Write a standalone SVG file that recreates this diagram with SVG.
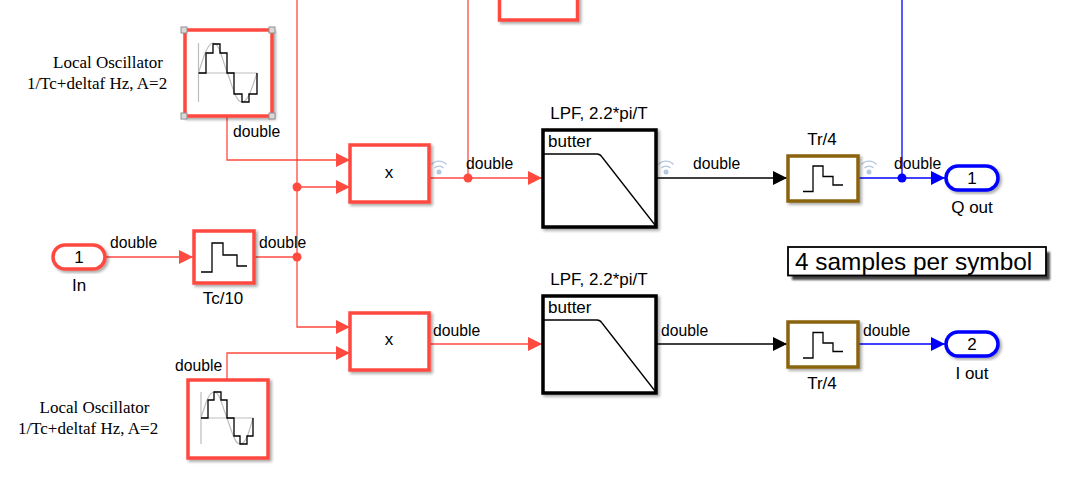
<svg xmlns="http://www.w3.org/2000/svg" width="1070" height="477" viewBox="0 0 1070 477">
<style>
text{font-family:"Liberation Sans",Arial,sans-serif;fill:#000}
.sig{font-size:15.700px}
.name{font-size:17px;text-anchor:middle}
.lft{font-size:17px}
.serif{font-family:"Liberation Serif","Times New Roman",serif;font-size:17px;text-anchor:middle}
.num{font-size:17px;text-anchor:middle}
.blk{fill:#fff;filter:url(#sh)}
.red{stroke:#ff4a40;stroke-width:3.500}
.blk2{stroke:#000;stroke-width:3.500}
.brn{stroke:#8a6410;stroke-width:3.500}
.blu{stroke:#0000ff;stroke-width:3.500}
.w{fill:none;stroke:#ff4a40;stroke-width:1.300}
.wb{fill:none;stroke:#000;stroke-width:1.300}
.wu{fill:none;stroke:#0000ff;stroke-width:1.300}
.ic{fill:none;stroke:#000;stroke-width:1.300}
.gr{fill:none;stroke:#bdbdbd;stroke-width:1.200}
.wf{fill:none;stroke:#b4c7e0;stroke-width:1.300}
.hd{fill:#d9d9d9;stroke:#8f8f8f;stroke-width:1}
</style>
<defs>
<filter id="sh" x="-15%" y="-15%" width="135%" height="135%"><feDropShadow dx="2" dy="2" stdDeviation="1.600" flood-color="#000" flood-opacity="0.35"/></filter>
<marker id="ar" markerUnits="userSpaceOnUse" markerWidth="14" markerHeight="14" refX="14" refY="7" orient="auto"><path d="M0 0L14 7L0 14Z" fill="#ff4a40"/></marker>
<marker id="ak" markerUnits="userSpaceOnUse" markerWidth="14" markerHeight="14" refX="14" refY="7" orient="auto"><path d="M0 0L14 7L0 14Z" fill="#000"/></marker>
<marker id="au" markerUnits="userSpaceOnUse" markerWidth="14" markerHeight="14" refX="14" refY="7" orient="auto"><path d="M0 0L14 7L0 14Z" fill="#0000ff"/></marker>
<g id="wifi"><path class="wf" d="M-7.500 -7.500A10 10 0 0 1 7.500 -7.500M-4.500 -4A6.500 6.500 0 0 1 4.500 -4"/><circle cx="0" cy="0" r="2.500" fill="#b4c7e0"/></g>
<path id="zoh" class="ic" d="M0 0H10V-25.500H20V-15H30V-6.500H40"/>
</defs>

<g id="connectors">
<path class="w" d="M105 257H193" marker-end="url(#ar)"/>
<path class="w" d="M254 257H297"/>
<path class="w" d="M297 0V327H350" marker-end="url(#ar)"/>
<path class="w" d="M297 187H350" marker-end="url(#ar)"/>
<path class="w" d="M227 116V160H350" marker-end="url(#ar)"/>
<path class="w" d="M227 379V353H350" marker-end="url(#ar)"/>
<path class="w" d="M429 178H542" marker-end="url(#ar)"/>
<path class="w" d="M468 0V178"/>
<path class="w" d="M429 344H542" marker-end="url(#ar)"/>
<path class="wb" d="M657 178H787" marker-end="url(#ak)"/>
<path class="wb" d="M657 344H787" marker-end="url(#ak)"/>
<path class="wu" d="M858 178H945" marker-end="url(#au)"/>
<path class="wu" d="M902 0V178"/>
<path class="wu" d="M858 344H945" marker-end="url(#au)"/>
<circle cx="297" cy="187" r="4.500" fill="#ff4a40"/>
<circle cx="297" cy="257" r="4.500" fill="#ff4a40"/>
<circle cx="468" cy="178" r="4.500" fill="#ff4a40"/>
<circle cx="902" cy="178" r="4.500" fill="#0000ff"/>
<use href="#wifi" x="439" y="172"/>
<use href="#wifi" x="666" y="172"/>
<use href="#wifi" x="869" y="172"/>
<text class="sig" x="233" y="137">double</text>
<text class="sig" x="110" y="248">double</text>
<text class="sig" x="259" y="248">double</text>
<text class="sig" x="466" y="169">double</text>
<text class="sig" x="693" y="169">double</text>
<text class="sig" x="894" y="169">double</text>
<text class="sig" x="433" y="336">double</text>
<text class="sig" x="661" y="336">double</text>
<text class="sig" x="863" y="336">double</text>
<text class="sig" x="175" y="371">double</text>
</g>

<g id="top-block"><rect class="blk red" x="499.500" y="-10" width="78" height="30"/></g>

<g id="osc1">
<rect class="blk red" x="185" y="30" width="87" height="86"/>
<path class="gr" d="M198.500 43V102M198.500 73H257M198.500 73C204 55 208 43 213 43C220 43 222 60 227.500 73C233 88 236 102 242 102C248 102 252 88 257 73"/>
<path class="ic" d="M198.500 73H206V53H213V44H220V53H227V73H234V94H242V102H249V94H257V73"/>
<rect class="hd" x="181" y="27" width="6" height="6"/><rect class="hd" x="269" y="27" width="6" height="6"/><rect class="hd" x="181" y="113" width="6" height="6"/><rect class="hd" x="269" y="113" width="6" height="6"/>
<text class="serif" x="108" y="68">Local Oscillator</text>
<text class="serif" x="97" y="89">1/Tc+deltaf Hz, A=2</text>
</g>

<g id="osc2">
<rect class="blk red" x="188" y="380" width="80" height="78"/>
<path class="gr" d="M201 392V444M201 418H253M201 418C206 402 209 392 214 392C220 392 222 406 227 418C232 432 235 444 240 444C246 444 249 432 253 418"/>
<path class="ic" d="M201 418H208V400H214V392H221V400H227V418H234V436H240V444H247V436H253V418"/>
<text class="serif" x="94.500" y="413">Local Oscillator</text>
<text class="serif" x="88" y="434">1/Tc+deltaf Hz, A=2</text>
</g>

<g id="in1">
<rect class="blk red" x="53" y="245" width="52" height="24" rx="12"/>
<text class="num" x="79" y="263">1</text>
<text class="name" x="79" y="291">In</text>
</g>

<g id="tc10">
<rect class="blk red" x="194" y="231" width="60" height="52"/>
<path class="ic" d="M201 272H212V243H223V255H237V266H247"/>
<text class="name" x="223" y="304">Tc/10</text>
</g>

<g id="mult1"><rect class="blk red" x="350" y="145" width="79" height="57"/><text class="num" x="389" y="178">x</text></g>
<g id="mult2"><rect class="blk red" x="350" y="313" width="79" height="57"/><text class="num" x="389" y="345">x</text></g>

<g id="lpf1">
<rect class="blk blk2" x="543" y="130" width="113" height="97"/>
<path class="ic" d="M544 154H597Q600 154 602 157L655 225"/>
<text class="name" x="599" y="119">LPF, 2.2*pi/T</text>
<text class="lft" x="548" y="147">butter</text>
</g>
<g id="lpf2">
<rect class="blk blk2" x="543" y="296" width="113" height="97"/>
<path class="ic" d="M544 320H597Q600 320 602 323L655 391"/>
<text class="name" x="599" y="285">LPF, 2.2*pi/T</text>
<text class="lft" x="548" y="313">butter</text>
</g>

<g id="tr1">
<rect class="blk brn" x="788" y="156" width="70" height="45"/>
<use href="#zoh" x="803" y="191.500"/>
<text class="name" x="822" y="145">Tr/4</text>
</g>
<g id="tr2">
<rect class="blk brn" x="788" y="322" width="70" height="45"/>
<use href="#zoh" x="803" y="358"/>
<text class="name" x="822" y="389">Tr/4</text>
</g>

<g id="q-out">
<rect class="blk blu" x="946" y="166" width="52" height="24" rx="12"/>
<text class="num" x="972" y="184">1</text>
<text class="name" x="972" y="213">Q out</text>
</g>
<g id="i-out">
<rect class="blk blu" x="946" y="332" width="52" height="24" rx="12"/>
<text class="num" x="972" y="350">2</text>
<text class="name" x="972" y="379">I out</text>
</g>

<g id="note">
<rect x="792" y="252" width="258" height="28" fill="#444" style="filter:blur(1.200px)"/>
<rect x="788" y="247" width="258" height="28.500" fill="#fff" stroke="#000" stroke-width="1.800"/>
<text x="795" y="270" font-size="24.400px">4 samples per symbol</text>
</g>
</svg>
